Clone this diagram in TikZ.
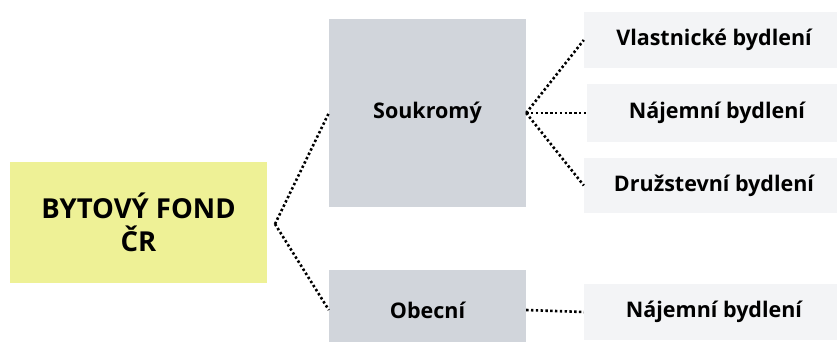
\documentclass[tikz,border=0pt]{standalone}
\usepackage{fontspec}
\setmainfont{Open Sans}[BoldFont={Open Sans Bold}]
\definecolor{fondc}{RGB}{238,241,150}
\definecolor{midc}{RGB}{209,213,219}
\definecolor{leafc}{RGB}{243,244,246}
\begin{document}
\begin{tikzpicture}[x=1pt,y=-1pt,
  box/.style={inner sep=0pt, align=center, font=\bfseries\fontsize{21.5}{24}\selectfont},
  conn/.style={line width=2.6pt, dash pattern=on 2.4pt off 2.4pt, line cap=butt}]
\clip (0,0) rectangle (837,341);
\useasboundingbox (0,0) rectangle (837,341);
\node[box, fill=fondc, minimum width=257pt, minimum height=121pt,
  font=\bfseries\fontsize{27.5}{33}\selectfont] (fond) at (138.5,222.5) {BYTOVÝ FOND\\ČR};
\node[box, fill=midc, minimum width=197pt, minimum height=188pt] (souk) at (427.5,113) {Soukromý};
\node[box, fill=midc, minimum width=197pt, minimum height=80pt] (obec) at (427.5,310) {Obecní};
\node[box, fill=leafc, minimum width=260pt, minimum height=56pt] (v1) at (714,40) {Vlastnické bydlení};
\node[box, fill=leafc, minimum width=260pt, minimum height=58pt] (v2) at (717,113) {Nájemní bydlení};
\node[box, fill=leafc, minimum width=260pt, minimum height=55pt] (v3) at (714,185.5) {Družstevní bydlení};
\node[box, fill=leafc, minimum width=260pt, minimum height=56pt] (v4) at (714,312) {Nájemní bydlení};
\coordinate (a1) at (275,224);
\draw[conn] (a1) -- (souk.west);
\draw[conn] (a1) -- (obec.west);
\draw[conn] (souk.east) -- (v1.west);
\draw[conn] (souk.east) -- (v2.west);
\draw[conn] (souk.east) -- (v3.west);
\draw[conn] (obec.east) -- (v4.west);
\end{tikzpicture}
\end{document}
